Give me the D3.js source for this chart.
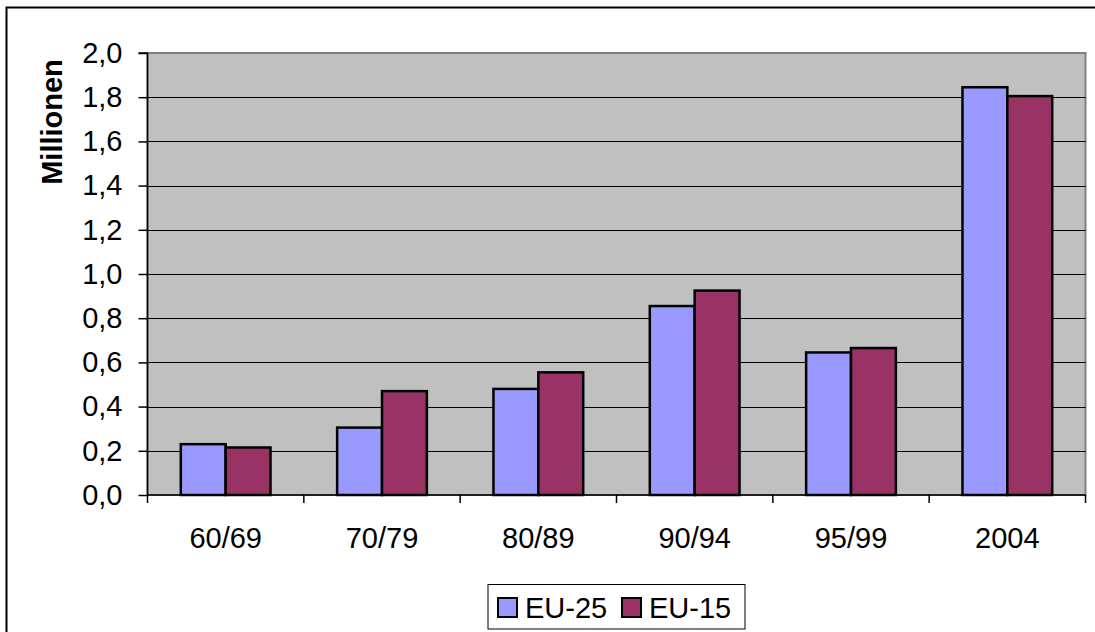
<!DOCTYPE html>
<html><head><meta charset="utf-8">
<script src="https://cdn.jsdelivr.net/npm/d3@7"></script>
<style>body{margin:0;background:#fff}svg{display:block}</style>
</head><body>
<script>
const categories = ["60/69","70/79","80/89","90/94","95/99","2004"];
const seriesNames = ["EU-25","EU-15"];
const eu25 = [0.23, 0.305, 0.48, 0.855, 0.645, 1.845];
const eu15 = [0.215, 0.47, 0.555, 0.925, 0.665, 1.805];
const yTicks = [0,0.2,0.4,0.6,0.8,1.0,1.2,1.4,1.6,1.8,2.0];
const colors = ["#9999FF","#993366"];

(function(){
const W = 1095, H = 632;
const svg = d3.select("body").append("svg").attr("width", W).attr("height", H);
const font = "'Liberation Sans', Arial, sans-serif";
const fs = 29;

// outer border
svg.append("rect").attr("x",6.5).attr("y",7.5).attr("width",W+10).attr("height",H+10)
  .attr("fill","#fff").attr("stroke","#000").attr("stroke-width",2);

const pL = 147.5, pR = 1085.5, pT = 53, pB = 495;
const x0 = d3.scaleBand().domain(categories).range([pL, pR]).paddingInner(0.426).paddingOuter(0.213);
const x1 = d3.scaleBand().domain(seriesNames).range([0, x0.bandwidth()]);
const y = d3.scaleLinear().domain([0, 2]).range([pB, pT]);

// plot area
svg.append("rect").attr("x",pL).attr("y",pT).attr("width",pR-pL).attr("height",pB-pT)
  .attr("fill","#C0C0C0").attr("stroke","#808080").attr("stroke-width",2);

// gridlines
svg.append("g").selectAll("line").data(yTicks.filter(d=>d>0 && d<2)).join("line")
  .attr("x1",pL).attr("x2",pR).attr("y1",d=>Math.round(y(d))+0.5).attr("y2",d=>Math.round(y(d))+0.5)
  .attr("stroke","#000").attr("stroke-width",1);

// bars
const data = categories.map((c,i)=>({c, vals:[eu25[i], eu15[i]]}));
const g = svg.append("g").selectAll("g").data(data).join("g")
  .attr("transform", d=>`translate(${x0(d.c)},0)`);
g.selectAll("rect").data(d=>d.vals.map((v,j)=>({v, s:seriesNames[j], j}))).join("rect")
  .attr("x", d=>x1(d.s)).attr("width", x1.bandwidth())
  .attr("y", d=>y(d.v)).attr("height", d=>y(0)-y(d.v))
  .attr("fill", d=>colors[d.j]).attr("stroke","#000").attr("stroke-width",2.5);

// y axis
const yAxis = d3.axisLeft(y).tickValues(yTicks).tickSize(9).tickPadding(16)
  .tickFormat(d=>d3.format(".1f")(d).replace(".",","));
const ya = svg.append("g").attr("transform",`translate(${pL},0)`).call(yAxis);
ya.select(".domain").attr("stroke","#000").attr("stroke-width",1.5).attr("d",`M-9,${pT}H0V${pB}`);
ya.selectAll(".tick line").attr("stroke","#000").attr("stroke-width",1.5);
ya.selectAll(".tick text").attr("font-family",font).attr("font-size",fs).attr("fill","#000");

// x axis
const xa = svg.append("g").attr("transform",`translate(0,${pB})`)
  .call(d3.axisBottom(x0).tickSize(0).tickPadding(32));
xa.select(".domain").attr("stroke","#000").attr("stroke-width",1.5).attr("d",`M${pL},0H${pR}`);
xa.selectAll(".tick text").attr("font-family",font).attr("font-size",fs).attr("fill","#000");
const step = (pR-pL)/categories.length;
xa.append("g").selectAll("line").data(d3.range(categories.length+1)).join("line")
  .attr("x1",i=>pL+i*step).attr("x2",i=>pL+i*step).attr("y1",0).attr("y2",8)
  .attr("stroke","#000").attr("stroke-width",1.5);

// y title
svg.append("text").attr("transform","translate(62,122) rotate(-90)")
  .attr("text-anchor","middle").attr("font-family",font).attr("font-weight","bold")
  .attr("font-size",fs).text("Millionen");

// legend
const lg = svg.append("g");
lg.append("rect").attr("x",488).attr("y",584.5).attr("width",257).attr("height",44.5)
  .attr("fill","#fff").attr("stroke","#000").attr("stroke-width",1);
const legX = [498, 622];
seriesNames.forEach((s,i)=>{
  lg.append("rect").attr("x",legX[i]).attr("y",598).attr("width",19).attr("height",19)
    .attr("fill",colors[i]).attr("stroke","#000").attr("stroke-width",2);
  lg.append("text").attr("x",legX[i]+27).attr("y",618).attr("font-family",font)
    .attr("font-size",fs).text(s);
});
})();
</script>
</body></html>
